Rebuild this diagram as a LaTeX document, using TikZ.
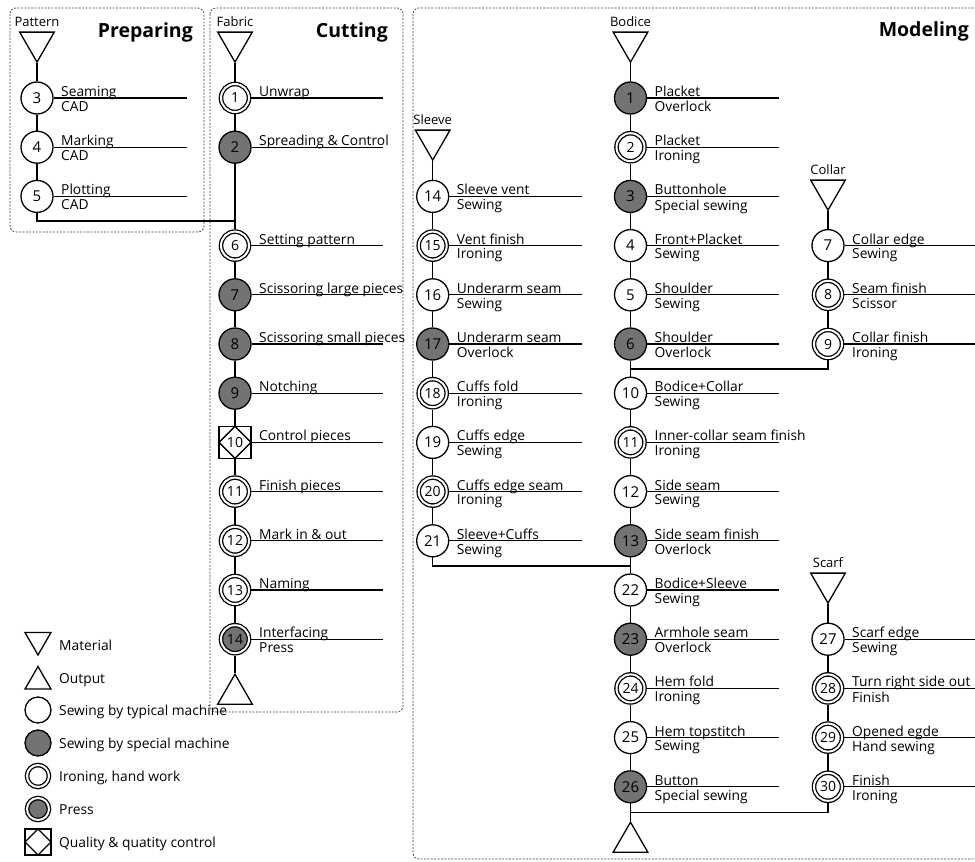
\documentclass[tikz,border=0pt]{standalone}
\usepackage{fontspec}
\setmainfont{Open Sans}
\usetikzlibrary{positioning,shapes.geometric}

\tikzset{
  conn/.style={line width=1.3pt},
  typ/.style={circle, draw, line width=1.3pt, fill=white, minimum size=32pt, inner sep=0pt, font=\fontsize{15}{17}\selectfont},
  spec/.style={typ, fill=black!55},
  iron/.style={typ, double, double distance=2pt, minimum size=28pt, outer sep=2.3pt, font=\fontsize{14}{16}\selectfont},
  press/.style={iron, fill=black!55},
  qc/.style={rectangle, draw, line width=1.3pt, fill=white, minimum size=32pt, inner sep=0pt, font=\fontsize{14}{16}\selectfont,
    path picture={\draw[line width=1.3pt] (path picture bounding box.north) -- (path picture bounding box.east)
      -- (path picture bounding box.south) -- (path picture bounding box.west) -- cycle;}},
  mat/.style={regular polygon, regular polygon sides=3, shape border rotate=180, draw, line width=1.3pt, minimum size=40pt, inner sep=0pt},
  outp/.style={regular polygon, regular polygon sides=3, draw, line width=1.3pt, minimum size=40pt, inner sep=0pt},
  toplab/.style={anchor=base west, inner sep=0pt, font=\fontsize{13.8}{16}\selectfont},
  botlab/.style={anchor=north west, inner sep=0pt, font=\fontsize{13.8}{16}\selectfont},
  grp/.style={inner sep=0pt, font=\fontsize{13}{15}\selectfont},
  phasehead/.style={anchor=base east, inner sep=0pt, font=\fontsize{19.5}{22}\selectfont\bfseries},
  phase/.style={draw=black!75, line width=0.7pt, dash pattern=on 2pt off 1.4pt, rounded corners=6pt},
  lgtext/.style={anchor=base west, inner sep=0pt, font=\fontsize{13.8}{16}\selectfont}
}

\begin{document}
\begin{tikzpicture}[x=1pt, y=-1pt]
  \useasboundingbox (0,0) rectangle (975,862);

  % phases
  \draw[phase] (10,8) rectangle (204,232);
  \draw[phase] (210,8) rectangle (403,712);
  \draw[phase] (413,8) rectangle (990,859);
  \node[phasehead] (prephead) at (193,37) {Preparing};
  \node[phasehead] (cuthead) at (388,37) {Cutting};
  \node[phasehead] (modhead) at (969,36) {Modeling};

  % materials and outputs
  \node[mat] (patt) at (37,42.1) {};
  \node[mat] (fab) at (235,42.1) {};
  \node[mat] (bod) at (630.5,42.1) {};
  \node[mat] (sle) at (432.7,140.1) {};
  \node[mat] (col) at (828,190.1) {};
  \node[mat] (sca) at (828,583.1) {};
  \node[outp] (cutout) at (235,694.2) {};
  \node[outp] (bodout) at (630.5,842.2) {};
  \foreach \m/\t in {patt/Pattern, fab/Fabric, bod/Bodice, sle/Sleeve, col/Collar, sca/Scarf}
    \node[grp, above=5pt of \m] (\m lab) {\t};

  % steps: column/x/line end/number/kind/y/upper text/lower text
  \foreach \c/\x/\xe/\n/\st/\y/\ta/\tb in {
      pre/37/187/3/typ/98/Seaming/CAD,
      pre/37/187/4/typ/147.2/Marking/CAD,
      pre/37/187/5/typ/196.4/Plotting/CAD,
      cut/235/383/1/iron/98/Unwrap/{},
      cut/235/383/2/spec/147.2/Spreading \& Control/{},
      cut/235/383/6/iron/245.6/Setting pattern/{},
      cut/235/383/7/spec/294.8/Scissoring large pieces/{},
      cut/235/383/8/spec/344/Scissoring small pieces/{},
      cut/235/383/9/spec/393.2/Notching/{},
      cut/235/383/10/qc/442.4/Control pieces/{},
      cut/235/383/11/iron/491.6/Finish pieces/{},
      cut/235/383/12/iron/540.8/Mark in \& out/{},
      cut/235/383/13/iron/590/Naming/{},
      cut/235/383/14/press/639.2/Interfacing/Press,
      sle/432.7/581.5/14/typ/196.4/Sleeve vent/Sewing,
      sle/432.7/581.5/15/iron/245.6/Vent finish/Ironing,
      sle/432.7/581.5/16/typ/294.8/Underarm seam/Sewing,
      sle/432.7/581.5/17/spec/344/Underarm seam/Overlock,
      sle/432.7/581.5/18/iron/393.2/Cuffs fold/Ironing,
      sle/432.7/581.5/19/typ/442.4/Cuffs edge/Sewing,
      sle/432.7/581.5/20/iron/491.6/Cuffs edge seam/Ironing,
      sle/432.7/581.5/21/typ/540.8/Sleeve+Cuffs/Sewing,
      bod/630.5/778.5/1/spec/98/Placket/Overlock,
      bod/630.5/778.5/2/iron/147.2/Placket/Ironing,
      bod/630.5/778.5/3/spec/196.4/Buttonhole/Special sewing,
      bod/630.5/778.5/4/typ/245.6/Front+Placket/Sewing,
      bod/630.5/778.5/5/typ/294.8/Shoulder/Sewing,
      bod/630.5/778.5/6/spec/344/Shoulder/Overlock,
      bod/630.5/778.5/10/typ/393.2/Bodice+Collar/Sewing,
      bod/630.5/778.5/11/iron/442.4/Inner-collar seam finish/Ironing,
      bod/630.5/778.5/12/typ/491.6/Side seam/Sewing,
      bod/630.5/778.5/13/spec/540.8/Side seam finish/Overlock,
      bod/630.5/778.5/22/typ/590/Bodice+Sleeve/Sewing,
      bod/630.5/778.5/23/spec/639.2/Armhole seam/Overlock,
      bod/630.5/778.5/24/iron/688.4/Hem fold/Ironing,
      bod/630.5/778.5/25/typ/737.6/Hem topstitch/Sewing,
      bod/630.5/778.5/26/spec/786.8/Button/Special sewing,
      col/828/980/7/typ/245.6/Collar edge/Sewing,
      col/828/980/8/iron/294.8/Seam finish/Scissor,
      col/828/980/9/iron/344/Collar finish/Ironing,
      sca/828/980/27/typ/639.2/Scarf edge/Sewing,
      sca/828/980/28/iron/688.4/Turn right side out/Finish,
      sca/828/980/29/iron/737.6/Opened egde/Hand sewing,
      sca/828/980/30/iron/786.8/Finish/Ironing}{
    \node[\st] (\c\n) at (\x,\y) {\n};
    \coordinate (\c\n e) at (\xe,\y);
    \draw[conn] (\c\n) -- (\c\n e);
    \node[toplab] (\c\n a) at ([shift={(24,-1.5)}]\c\n.center) {\ta};
    \node[botlab] (\c\n b) at ([shift={(24,3)}]\c\n.center) {\tb};
  }

  % flow lines
  \coordinate (mergeP) at (235,221);
  \coordinate (mergeL) at (630.5,566);
  \coordinate (mergeC) at (630.5,369);
  \coordinate (mergeS) at (630.5,812.7);
  \draw[conn] (patt) -- (pre3) -- (pre4) -- (pre5) |- (mergeP);
  \draw[conn] (fab) -- (cut1) -- (cut2) -- (cut6) -- (cut7) -- (cut8) -- (cut9) -- (cut10)
    -- (cut11) -- (cut12) -- (cut13) -- (cut14) -- (cutout);
  \draw[conn] (sle) -- (sle14) -- (sle15) -- (sle16) -- (sle17) -- (sle18) -- (sle19)
    -- (sle20) -- (sle21) |- (mergeL);
  \draw[conn] (bod) -- (bod1) -- (bod2) -- (bod3) -- (bod4) -- (bod5) -- (bod6) -- (bod10)
    -- (bod11) -- (bod12) -- (bod13) -- (bod22) -- (bod23) -- (bod24) -- (bod25) -- (bod26) -- (bodout);
  \draw[conn] (col) -- (col7) -- (col8) -- (col9) |- (mergeC);
  \draw[conn] (sca) -- (sca27) -- (sca28) -- (sca29) -- (sca30) |- (mergeS);

  % legend
  \node[mat, minimum size=30pt] (lgmat) at (38,640) {};
  \node[lgtext] (lgmatt) at (59,650) {Material};
  \node[outp, minimum size=30pt] (lgout) at (38,681.5) {};
  \node[lgtext] (lgoutt) at (59,683) {Output};
  \node[typ, minimum size=26pt] (lgtyp) at (38,710) {};
  \node[lgtext] (lgtypt) at (59,715) {Sewing by typical machine};
  \node[spec, minimum size=26pt] (lgspec) at (38,743) {};
  \node[lgtext] (lgspect) at (59,748) {Sewing by special machine};
  \node[iron, minimum size=22pt] (lgiron) at (38,776) {};
  \node[lgtext] (lgiront) at (59,781) {Ironing, hand work};
  \node[press, minimum size=22pt] (lgpress) at (38,809) {};
  \node[lgtext] (lgpresst) at (59,814) {Press};
  \node[qc, minimum size=26pt] (lgqc) at (38,842) {};
  \node[lgtext] (lgqct) at (59,847) {Quality \& quatity control};
\end{tikzpicture}
\end{document}
